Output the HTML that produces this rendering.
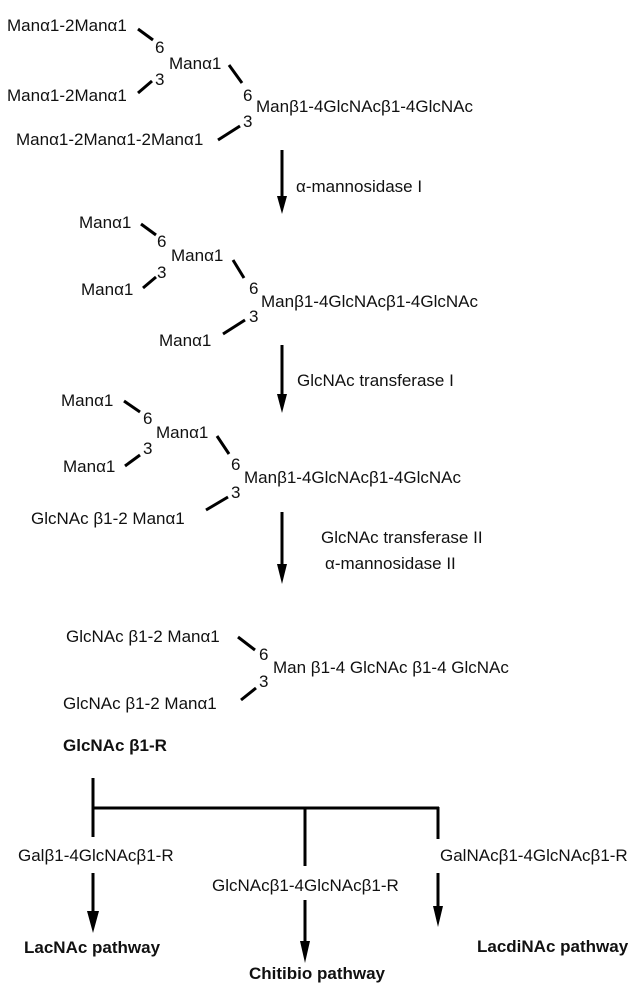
<!DOCTYPE html>
<html><head><meta charset="utf-8"><style>
html,body{margin:0;padding:0;background:#fff;}
svg{display:block;}
text{font-family:"Liberation Sans",Arial,sans-serif;font-size:17px;fill:#111;}
.b{font-weight:bold;}
line{stroke:#000;stroke-width:3;}
</style></head><body>
<svg width="639" height="990" viewBox="0 0 639 990" xmlns="http://www.w3.org/2000/svg">
<!-- Block 1 -->
<text x="7" y="31">Manα1-2Manα1</text>
<line x1="138" y1="29" x2="153" y2="40"/>
<text x="155" y="53">6</text>
<text x="169" y="69">Manα1</text>
<text x="155" y="85">3</text>
<line x1="138" y1="93" x2="152" y2="81"/>
<text x="7" y="101">Manα1-2Manα1</text>
<line x1="229" y1="65" x2="242" y2="83"/>
<text x="243" y="101">6</text>
<text x="256" y="112">Manβ1-4GlcNAcβ1-4GlcNAc</text>
<text x="243" y="127">3</text>
<line x1="218" y1="140" x2="240" y2="126"/>
<text x="16" y="145">Manα1-2Manα1-2Manα1</text>
<line x1="282" y1="150" x2="282" y2="200" stroke-width="3.5"/>
<polygon points="277,196 282,214 287,196" fill="#000"/>
<text x="296" y="192">α-mannosidase I</text>
<!-- Block 2 -->
<text x="79" y="228">Manα1</text>
<line x1="141" y1="224" x2="156" y2="235"/>
<text x="157" y="247">6</text>
<text x="171" y="261">Manα1</text>
<text x="157" y="278">3</text>
<line x1="143" y1="288" x2="156" y2="277"/>
<text x="81" y="295">Manα1</text>
<line x1="233" y1="260" x2="244" y2="278"/>
<text x="249" y="294">6</text>
<text x="261" y="307">Manβ1-4GlcNAcβ1-4GlcNAc</text>
<text x="249" y="322">3</text>
<line x1="223" y1="334" x2="245" y2="320"/>
<text x="159" y="346">Manα1</text>
<line x1="282" y1="345" x2="282" y2="398" stroke-width="3.5"/>
<polygon points="277,394 282,413 287,394" fill="#000"/>
<text x="297" y="386">GlcNAc transferase I</text>
<!-- Block 3 -->
<text x="61" y="406">Manα1</text>
<line x1="124" y1="401" x2="140" y2="412"/>
<text x="143" y="424">6</text>
<text x="156" y="438">Manα1</text>
<text x="143" y="454">3</text>
<line x1="125" y1="466" x2="140" y2="455"/>
<text x="63" y="472">Manα1</text>
<line x1="217" y1="436" x2="229" y2="454"/>
<text x="231" y="470">6</text>
<text x="244" y="483">Manβ1-4GlcNAcβ1-4GlcNAc</text>
<text x="231" y="498">3</text>
<line x1="206" y1="510" x2="228" y2="497"/>
<text x="31" y="524">GlcNAc β1-2 Manα1</text>
<line x1="282" y1="512" x2="282" y2="568" stroke-width="3.5"/>
<polygon points="277,564 282,584 287,564" fill="#000"/>
<text x="321" y="543">GlcNAc transferase II</text>
<text x="325" y="569">α-mannosidase II</text>
<!-- Block 4 -->
<text x="66" y="642">GlcNAc β1-2 Manα1</text>
<line x1="238" y1="637" x2="255" y2="650"/>
<text x="259" y="660">6</text>
<text x="273" y="673">Man β1-4 GlcNAc β1-4 GlcNAc</text>
<text x="259" y="687">3</text>
<line x1="241" y1="700" x2="256" y2="688"/>
<text x="63" y="709">GlcNAc β1-2 Manα1</text>
<text class="b" x="63" y="751">GlcNAc β1-R</text>
<!-- Tree -->
<line x1="93" y1="778" x2="93" y2="837"/>
<line x1="93" y1="808" x2="439" y2="808"/>
<line x1="305" y1="808" x2="305" y2="866"/>
<line x1="438" y1="807" x2="438" y2="839"/>
<text x="18" y="861">Galβ1-4GlcNAcβ1-R</text>
<text x="212" y="891">GlcNAcβ1-4GlcNAcβ1-R</text>
<text x="440" y="861">GalNAcβ1-4GlcNAcβ1-R</text>
<line x1="93" y1="873" x2="93" y2="915" stroke-width="3.5"/>
<polygon points="87,911 93,933 99,911" fill="#000"/>
<line x1="305" y1="900" x2="305" y2="945" stroke-width="2"/>
<polygon points="300,941 305,963 310,941" fill="#000"/>
<line x1="438" y1="873" x2="438" y2="910" stroke-width="2"/>
<polygon points="433,906 438,927 443,906" fill="#000"/>
<text class="b" x="24" y="953">LacNAc pathway</text>
<text class="b" x="249" y="979">Chitibio pathway</text>
<text class="b" x="477" y="952">LacdiNAc pathway</text>
</svg>
</body></html>
